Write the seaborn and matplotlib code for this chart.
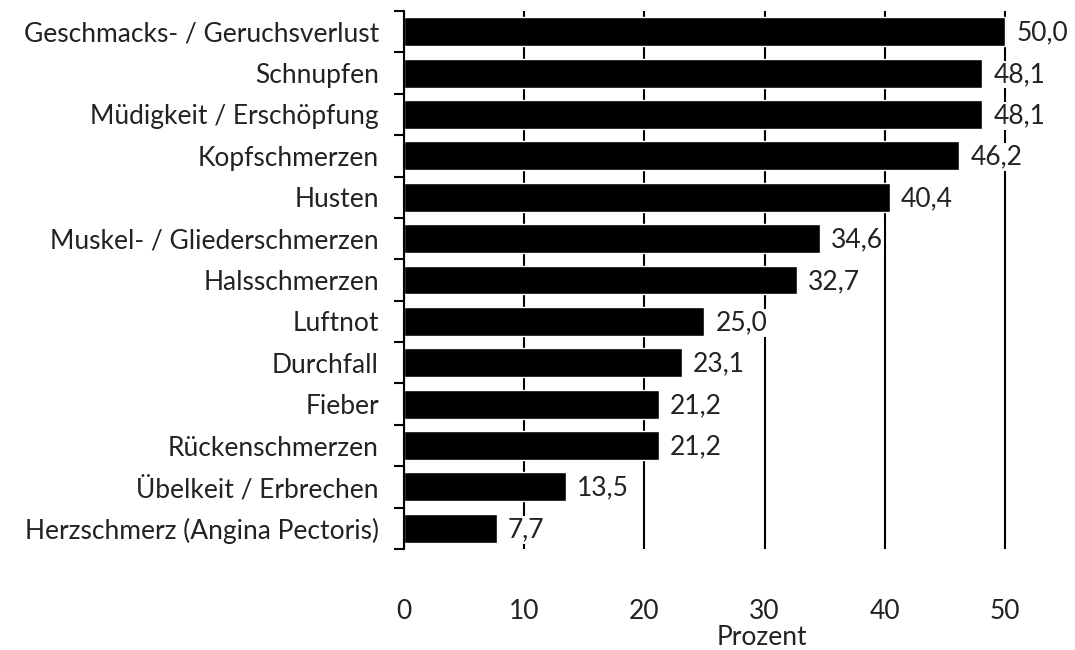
import matplotlib
matplotlib.use("Agg")
import matplotlib.pyplot as plt
import seaborn as sns
import pandas as pd
import numpy as np

symptoms = [
    "Geschmacks- / Geruchsverlust",
    "Schnupfen",
    "Müdigkeit / Erschöpfung",
    "Kopfschmerzen",
    "Husten",
    "Muskel- / Gliederschmerzen",
    "Halsschmerzen",
    "Luftnot",
    "Durchfall",
    "Fieber",
    "Rückenschmerzen",
    "Übelkeit / Erbrechen",
    "Herzschmerz (Angina Pectoris)",
]
percent = [50.0, 48.1, 48.1, 46.2, 40.4, 34.6, 32.7, 25.0, 23.1, 21.2, 21.2, 13.5, 7.7]
x_ticks = [0, 10, 20, 30, 40, 50]

df = pd.DataFrame({"Symptom": symptoms, "Prozent": percent})

sns.set_theme(style="white")
plt.rcParams["font.family"] = ["Lato", "DejaVu Sans"]
fs = 19
tc = "#222222"

fig = plt.figure(figsize=(10.75, 6.5), dpi=100)
ax = fig.add_axes([0.3758, 0.1554, 0.615, 0.8277])

sns.barplot(data=df, x="Prozent", y="Symptom", orient="h", color="black",
            width=0.7, saturation=1, ax=ax, zorder=2)

ax.set_xlim(0, 55)
ax.set_ylim(len(symptoms) - 0.5, -0.5)
ax.set_xticks(x_ticks)
ax.set_xticklabels([str(t) for t in x_ticks])
ax.grid(axis="x", color="black", linewidth=1.5, zorder=0)
ax.set_axisbelow(True)

for s in ["top", "right", "bottom"]:
    ax.spines[s].set_visible(False)
ax.spines["left"].set_color("black")
ax.spines["left"].set_linewidth(1.5)

# ticks on the left sit between the bars
ax.set_yticks(np.arange(-0.5, len(symptoms), 1), minor=True)
ax.tick_params(axis="y", which="minor", left=True, length=7, width=1.5, color="black")
ax.tick_params(axis="y", which="major", left=False, length=0, pad=18,
               labelsize=fs, labelcolor=tc)
ax.tick_params(axis="x", bottom=False, length=0, pad=36, labelsize=fs, labelcolor=tc)

for i, v in enumerate(percent):
    ax.annotate(f"{v:.1f}".replace(".", ","), xy=(v, i), xytext=(8, -1),
                textcoords="offset points", va="center", ha="left",
                fontsize=fs, color=tc,
                bbox=dict(facecolor="white", edgecolor="none", pad=1.0), zorder=3)

ax.set_ylabel("")
ax.set_xlabel("Prozent", fontsize=fs, color=tc)
ax.xaxis.set_label_coords(0.5416, -0.142)

fig.savefig("out.png", dpi=100)
